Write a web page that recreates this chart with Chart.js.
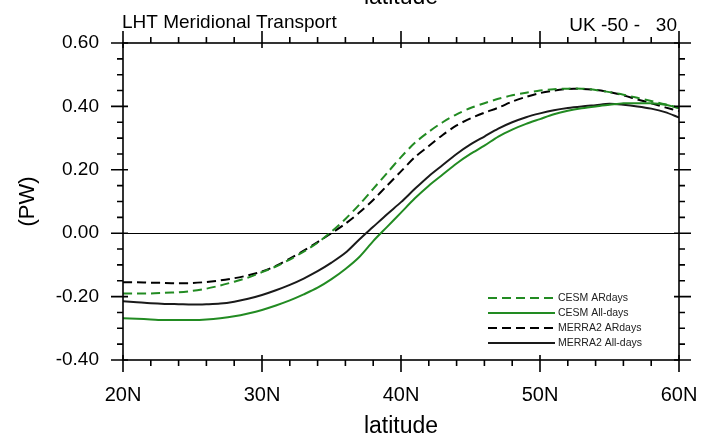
<!DOCTYPE html>
<html>
<head>
<meta charset="utf-8">
<script src="https://cdn.jsdelivr.net/npm/chart.js@4"></script>
<style>
  html, body { margin: 0; padding: 0; background: #ffffff; }
  #wrap { width: 715px; height: 441px; }
</style>
</head>
<body>
<div id="wrap"><canvas id="c" width="715" height="441"></canvas></div>
<script>
// ---- data ----
const latitudes = [20,21,22,23,24,25,26,27,28,29,30,31,32,33,34,35,36,37,38,39,40,41,42,43,44,45,46,47,48,49,50,51,52,53,54,55,56,57,58,59,60];
const cesmARdays = [-0.19,-0.19,-0.19,-0.188,-0.186,-0.182,-0.175,-0.165,-0.153,-0.14,-0.123,-0.105,-0.083,-0.058,-0.03,0.005,0.045,0.09,0.14,0.19,0.24,0.285,0.32,0.35,0.375,0.395,0.41,0.424,0.435,0.443,0.45,0.454,0.456,0.456,0.452,0.445,0.437,0.427,0.417,0.407,0.395];
const cesmAlldays = [-0.268,-0.27,-0.272,-0.274,-0.274,-0.274,-0.272,-0.268,-0.262,-0.253,-0.242,-0.228,-0.212,-0.193,-0.172,-0.145,-0.113,-0.075,-0.025,0.02,0.065,0.11,0.15,0.185,0.22,0.25,0.276,0.305,0.327,0.345,0.36,0.375,0.386,0.394,0.4,0.405,0.41,0.41,0.41,0.405,0.395];
const merra2ARdays = [-0.155,-0.155,-0.156,-0.157,-0.158,-0.157,-0.154,-0.149,-0.142,-0.133,-0.121,-0.103,-0.08,-0.055,-0.028,0.0,0.03,0.065,0.105,0.15,0.195,0.24,0.275,0.31,0.34,0.362,0.38,0.396,0.415,0.43,0.442,0.45,0.455,0.455,0.452,0.445,0.435,0.422,0.41,0.397,0.385];
const merra2Alldays = [-0.215,-0.218,-0.221,-0.223,-0.224,-0.225,-0.224,-0.222,-0.216,-0.207,-0.195,-0.18,-0.163,-0.143,-0.12,-0.093,-0.062,-0.02,0.02,0.06,0.098,0.14,0.18,0.215,0.25,0.28,0.305,0.33,0.35,0.366,0.378,0.388,0.395,0.4,0.404,0.408,0.405,0.4,0.393,0.382,0.365];
const seriesNames = ['CESM ARdays','CESM All-days','MERRA2 ARdays','MERRA2 All-days'];
const xTickValues = [20,30,40,50,60];
const xTickLabels = ['20N','30N','40N','50N','60N'];
const yTickValues = [-0.4,-0.2,0,0.2,0.4,0.6];
const yTickLabels = ['-0.40','-0.20','0.00','0.20','0.40','0.60'];
const leftTitle = 'LHT Meridional Transport';
const rightTitle = 'UK -50 -   30';
const xTitle = 'latitude';
const yTitle = '(PW)';

// ---- styling ----
const GREEN = '#228B22';
const FONT = "'Liberation Sans', Arial, sans-serif";
Chart.defaults.font.family = FONT;
Chart.defaults.color = '#000';

function pts(vals){ return latitudes.map((x,i)=>({x:x, y:vals[i]})); }

const decor = {
  id: 'decor',
  beforeDatasetsDraw(chart){
    const {ctx, chartArea:a, scales:{y}} = chart;
    const y0 = Math.round(y.getPixelForValue(0)) + 0.5;
    ctx.save();
    ctx.strokeStyle = '#000'; ctx.lineWidth = 1;
    ctx.beginPath(); ctx.moveTo(a.left, y0); ctx.lineTo(a.right, y0); ctx.stroke();
    ctx.restore();
  },
  afterDraw(chart){
    const {ctx, chartArea:a, scales:{x, y}} = chart;
    ctx.save();
    ctx.strokeStyle = '#000';
    ctx.lineWidth = 1.6;
    // frame
    ctx.strokeRect(a.left, a.top, a.right - a.left, a.bottom - a.top);
    const MO = 12, MI = 5, mO = 6;
    ctx.beginPath();
    // x ticks (bottom & top)
    for (let v = 20; v <= 60; v += 2) {
      const px = x.getPixelForValue(v);
      const major = xTickValues.includes(v);
      const o = major ? MO : mO, i = major ? MI : 0;
      ctx.moveTo(px, a.bottom - i); ctx.lineTo(px, a.bottom + o);
      ctx.moveTo(px, a.top + i); ctx.lineTo(px, a.top - o);
    }
    // y ticks (left & right)
    for (let k = -8; k <= 12; k++) {
      const v = k * 0.05;
      const py = y.getPixelForValue(v);
      const major = (k % 4 === 0);
      const o = major ? MO : mO, i = major ? MI : 0;
      ctx.moveTo(a.left + i, py); ctx.lineTo(a.left - o, py);
      ctx.moveTo(a.right - i, py); ctx.lineTo(a.right + o, py);
    }
    ctx.stroke();

    // titles
    ctx.fillStyle = '#000';
    ctx.font = '19px ' + FONT;
    ctx.textBaseline = 'alphabetic';
    ctx.textAlign = 'left';
    ctx.fillText(leftTitle, a.left - 1, 28);
    ctx.textAlign = 'right';
    ctx.fillText(rightTitle, a.right - 2, 31);
    ctx.font = '23px ' + FONT;
    ctx.textAlign = 'center';
    ctx.fillText(xTitle, (a.left + a.right) / 2, 4);

    // legend
    const rows = [298, 313, 328, 343];
    const lx0 = 488, lx1 = 555;
    ctx.font = '10.5px ' + FONT;
    ctx.textAlign = 'left';
    ctx.textBaseline = 'middle';
    chart.data.datasets.forEach((ds, idx) => {
      const ry = rows[idx];
      ctx.save();
      ctx.strokeStyle = ds.borderColor;
      ctx.lineWidth = ds.borderWidth;
      ctx.setLineDash(ds.borderDash || []);
      ctx.beginPath(); ctx.moveTo(lx0, ry); ctx.lineTo(lx1, ry); ctx.stroke();
      ctx.restore();
      ctx.fillStyle = '#222';
      ctx.fillText(ds.label, lx1 + 3, ry + 0.5);
    });
    ctx.restore();
  }
};

new Chart(document.getElementById('c'), {
  type: 'line',
  data: {
    datasets: [
      { label: seriesNames[0], data: pts(cesmARdays), borderColor: GREEN, borderWidth: 2, borderDash: [9,5] },
      { label: seriesNames[1], data: pts(cesmAlldays), borderColor: GREEN, borderWidth: 2 },
      { label: seriesNames[2], data: pts(merra2ARdays), borderColor: '#000', borderWidth: 2, borderDash: [9,5] },
      { label: seriesNames[3], data: pts(merra2Alldays), borderColor: '#1a1a1a', borderWidth: 2 }
    ]
  },
  options: {
    responsive: false,
    devicePixelRatio: 1,
    animation: false,
    layout: { padding: { left: 0, top: 43, right: 36, bottom: 0 } },
    elements: { point: { radius: 0 }, line: { tension: 0.3, fill: false } },
    plugins: { legend: { display: false }, tooltip: { enabled: false } },
    scales: {
      x: {
        type: 'linear', min: 20, max: 60,
        afterBuildTicks: s => { s.ticks = xTickValues.map(v => ({ value: v })); },
        afterFit: s => { s.height = 81; s.paddingLeft = 0; s.paddingRight = 0; s.paddingTop = 0; s.paddingBottom = 0; },
        ticks: { callback: (v) => xTickLabels[xTickValues.indexOf(v)], padding: 23, maxRotation: 0, autoSkip: false, font: { size: 20 }, color: '#000' },
        grid: { display: false, drawTicks: false },
        border: { display: false },
        title: { display: true, text: xTitle, font: { size: 23 }, color: '#000', padding: { top: 0, bottom: 1 } }
      },
      y: {
        type: 'linear', min: -0.4, max: 0.6,
        afterBuildTicks: s => { s.ticks = yTickValues.map(v => ({ value: v })); },
        afterFit: s => { s.width = 123; s.paddingTop = 0; s.paddingBottom = 0; s.paddingLeft = 0; s.paddingRight = 0; },
        ticks: { callback: (v) => yTickLabels[yTickValues.findIndex(t => Math.abs(t - v) < 1e-9)], padding: 24, autoSkip: false, font: { size: 19 }, color: '#000' },
        grid: { display: false, drawTicks: false },
        border: { display: false },
        title: { display: true, text: yTitle, font: { size: 22 }, color: '#000', padding: { top: 15, bottom: 0 } }
      }
    }
  },
  plugins: [decor]
});
</script>
</body>
</html>
